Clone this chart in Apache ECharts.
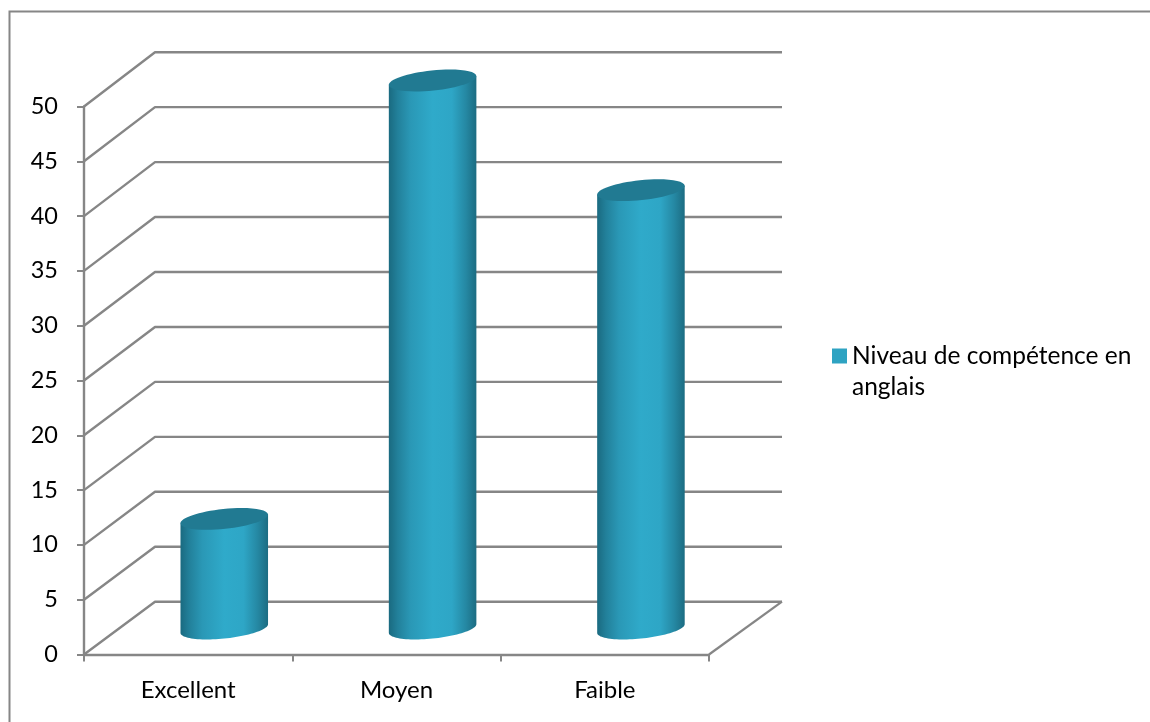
<!DOCTYPE html>
<html>
<head>
<meta charset="utf-8">
<style>html,body{margin:0;padding:0;background:#fff}#chart{width:1150px;height:722px}</style>
<script src="https://cdn.jsdelivr.net/npm/echarts@6/dist/echarts.min.js"></script>
</head>
<body>
<div id="chart"></div>
<script>
const categories = ['Excellent', 'Moyen', 'Faible'];
const seriesName = 'Niveau de compétence en anglais';
const levels = [10, 50, 40];
const wallTicks = [0, 5, 10, 15, 20, 25, 30, 35, 40, 45, 50];

// Oblique projection of the 3D box: how far the back wall sits from the front plane.
const DEPTH_X = 71;
const DEPTH_Y = 52.8;
const DEPTH_X_RIGHT = 73;
// The back wall is drawn very slightly taller than the front plane.
const WALL_STRETCH = 0.03;
const LINE = '#868686';
const FONT = 'Lato, "Open Sans", sans-serif';

// Cylinder proportions and the tilt of its elliptical ends.
const RX = 44, RY = 10, TILT = 6 * Math.PI / 180;

function ellipsePoint(cx, cy, t) {
  const c = Math.cos(t), s = Math.sin(t);
  return [
    cx + RX * c * Math.cos(TILT) + RY * s * Math.sin(TILT),
    cy - RX * c * Math.sin(TILT) + RY * s * Math.cos(TILT)
  ];
}

function renderWallLine(params, api) {
  const v = api.value(0);
  const front = api.coord([0, v]);
  const frontX = params.coordSys.x;
  const rightX = params.coordSys.x + params.coordSys.width + DEPTH_X_RIGHT;
  const y = front[1];
  const backY = y - DEPTH_Y - v * WALL_STRETCH;
  return {
    type: 'polyline',
    shape: { points: [[frontX, y], [frontX + DEPTH_X, backY], [rightX, backY]] },
    style: { stroke: LINE, lineWidth: 2.4, fill: 'none', lineJoin: 'round' },
    silent: true
  };
}

function renderFloorEdge(params, api) {
  const cs = params.coordSys;
  const y = api.coord([0, 0])[1];
  const x = cs.x + cs.width;
  return {
    type: 'line',
    shape: { x1: x, y1: y, x2: x + DEPTH_X_RIGHT, y2: y - DEPTH_Y },
    style: { stroke: LINE, lineWidth: 2.2 },
    silent: true
  };
}

function renderCylinder(params, api) {
  const base = api.coord([api.value(0), 0]);
  const top = api.coord([api.value(0), api.value(1)]);
  const cx = base[0] + DEPTH_X / 2 + 0.6;
  const by = base[1] - 26;
  const ty = top[1] - 26;
  const t0 = Math.atan2(RY * Math.sin(TILT), RX * Math.cos(TILT));
  const pts = [ellipsePoint(cx, ty, t0)];
  for (let i = 0; i <= 48; i++) {
    pts.push(ellipsePoint(cx, by, t0 + Math.PI * i / 48));
  }
  pts.push(ellipsePoint(cx, ty, t0 + Math.PI));
  return {
    type: 'group',
    children: [
      {
        type: 'polygon',
        shape: { points: pts },
        style: {
          fill: new echarts.graphic.LinearGradient(0, 0, 1, 0, [
            { offset: 0, color: '#1a6a80' },
            { offset: 0.1, color: '#22809a' },
            { offset: 0.25, color: '#2a98b6' },
            { offset: 0.5, color: '#2faaca' },
            { offset: 0.72, color: '#2ea6c6' },
            { offset: 0.88, color: '#2588a3' },
            { offset: 1, color: '#1c6c82' }
          ])
        }
      },
      {
        type: 'ellipse',
        x: cx,
        y: ty,
        rotation: TILT,
        shape: { cx: 0, cy: 0, rx: RX, ry: RY },
        style: { fill: '#217a92' }
      }
    ]
  };
}

const chart = echarts.init(document.getElementById('chart'), null, { renderer: 'canvas' });
chart.setOption({
  animation: false,
  backgroundColor: '#fff',
  grid: { left: 84, top: 106.5, width: 625, height: 548 },
  xAxis: {
    type: 'category',
    data: categories,
    axisLine: { lineStyle: { color: LINE, width: 2.4 } },
    axisTick: { show: true, length: 7, alignWithLabel: false, lineStyle: { color: LINE, width: 2 } },
    axisLabel: { color: '#000', fontFamily: FONT, fontSize: 24, margin: 24 },
    splitLine: { show: false }
  },
  yAxis: {
    type: 'value',
    min: 0,
    max: 50,
    interval: 5,
    axisLine: { show: true, lineStyle: { color: LINE, width: 2.4 } },
    axisTick: { show: true, length: 7, lineStyle: { color: LINE, width: 2 } },
    axisLabel: { color: '#000', fontFamily: FONT, fontSize: 23.5, margin: 26 },
    splitLine: { show: false }
  },
  legend: {
    show: true,
    left: 832,
    top: 309.5,
    orient: 'vertical',
    data: [{ name: seriesName, icon: 'rect' }],
    itemWidth: 15,
    itemHeight: 15,
    itemGap: 0,
    padding: 0,
    // The blank first line keeps the marker level with the first line of the name.
    formatter: () => ' \nNiveau de compétence en\nanglais',
    textStyle: {
      color: '#000',
      fontFamily: FONT,
      fontSize: 24.5,
      lineHeight: 31
    }
  },
  graphic: [{
    type: 'polyline',
    silent: true,
    shape: { points: [[9.5, 722], [9.5, 11.5], [1150, 11.5]] },
    style: { stroke: LINE, lineWidth: 2, fill: 'none' }
  }],
  series: [
    {
      type: 'custom',
      name: 'wall',
      z: 1,
      clip: false,
      silent: true,
      renderItem: renderWallLine,
      data: wallTicks.map(v => [v]),
      encode: { y: 0 }
    },
    {
      type: 'custom',
      name: 'floor',
      z: 1,
      clip: false,
      silent: true,
      renderItem: renderFloorEdge,
      data: [[0]],
      encode: { y: 0 }
    },
    {
      type: 'custom',
      name: seriesName,
      z: 5,
      clip: false,
      itemStyle: { color: '#2ea3c2' },
      renderItem: renderCylinder,
      data: levels.map((v, i) => [i, v]),
      encode: { x: 0, y: 1 }
    }
  ]
});
</script>
</body>
</html>
